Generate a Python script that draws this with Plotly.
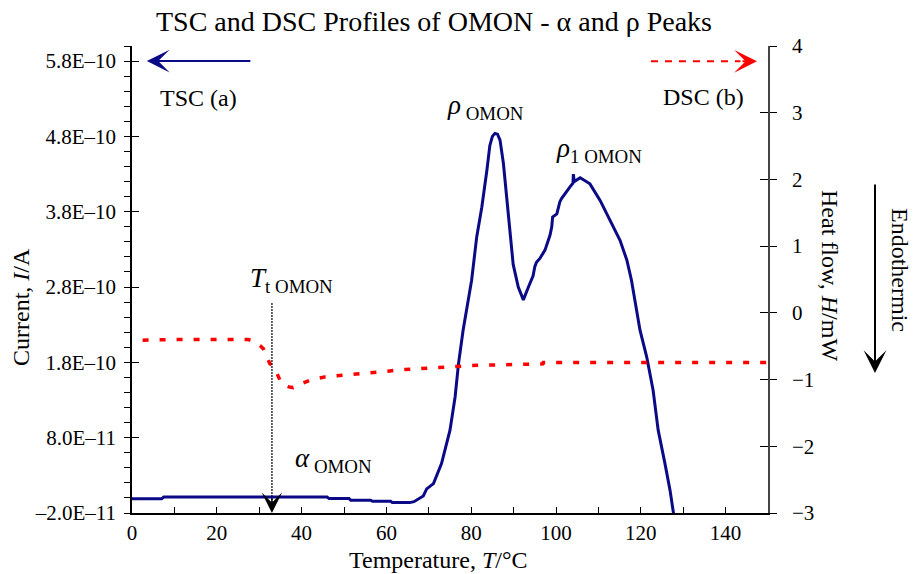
import plotly.graph_objects as go

# ---------------- data ----------------
tsc_temp = [0, 7.0, 7.5, 46.0, 46.5, 51.2, 51.6, 56.3, 56.7, 61.0, 61.4, 65.5, 66.5, 67.5,
            68.7, 69.5, 71.1, 73.0, 75.0, 76.2, 77.0, 78.1, 80.1, 81.3, 82.5, 83.7, 84.4,
            85.0, 85.6, 86.2, 86.8, 87.6, 88.4, 89.2, 89.9, 91.1, 92.3, 93.5, 94.6, 95.0,
            95.4, 96.2, 97.4, 98.6, 99.0, 99.2, 100.2, 100.9, 101.3, 103.3, 104.0, 104.1,
            104.3, 105.7, 108.0, 110.4, 112.7, 115.1, 116.7, 117.8, 119.8, 121.4, 122.9,
            124.1, 125.7, 126.9, 127.7, 128.2]
tsc_current_e10 = [-0.01, -0.01, 0.012, 0.012, -0.009, -0.009, -0.031, -0.031, -0.044, -0.044,
                   -0.062, -0.062, -0.05, -0.01, 0.026, 0.12, 0.19, 0.456, 0.90, 1.34, 1.78,
                   2.23, 2.89, 3.465, 3.86, 4.35, 4.68, 4.80, 4.84, 4.83, 4.75, 4.44, 4.0,
                   3.53, 3.1, 2.80, 2.63, 2.80, 2.95, 3.07, 3.13, 3.18, 3.29, 3.49, 3.60, 3.73,
                   3.77, 3.93, 3.975, 4.13, 4.18, 4.30, 4.20, 4.25, 4.17, 3.95, 3.69, 3.42,
                   3.16, 2.89, 2.23, 1.87, 1.43, 0.90, 0.456, 0.10, -0.2, -0.45]
tsc_current = [v * 1e-10 for v in tsc_current_e10]

dsc_temp = [2.5, 10, 20, 27.4, 28.5, 30.2, 31.0, 32.5, 33.3, 34.0, 34.9, 35.5, 37.0, 38.0,
            40.0, 42.0, 45.5, 49.1, 53.4, 56.9, 60.8, 64.0, 68.7, 72.6, 81.3, 93.1, 96.9,
            97.0, 150]
dsc_heat = [-0.41, -0.40, -0.40, -0.40, -0.42, -0.49, -0.54, -0.76, -0.80, -0.88, -1.01,
            -1.07, -1.11, -1.12, -1.06, -1.01, -0.96, -0.936, -0.91, -0.886, -0.871, -0.85,
            -0.835, -0.82, -0.786, -0.77, -0.765, -0.745, -0.745]

x_tickvals = [0, 20, 40, 60, 80, 100, 120, 140]
left_tickvals = [-2e-11, 8e-11, 1.8e-10, 2.8e-10, 3.8e-10, 4.8e-10, 5.8e-10]
left_ticktext = ["\u20132.0E\u201311", "8.0E\u201311", "1.8E\u201310", "2.8E\u201310",
                 "3.8E\u201310", "4.8E\u201310", "5.8E\u201310"]
right_tickvals = [-3, -2, -1, 0, 1, 2, 3, 4]

FONT = "Liberation Serif, Times New Roman, serif"
NAVY = "#0a0a86"
RED = "#ff0000"

L, R, T, B = 132, 146, 46, 61
W, H = 914, 574
PW, PH = W - L - R, H - T - B


def pxx(p):
    return (p - L) / PW


def pxy(p):
    return (H - B - p) / PH


fig = go.Figure()
fig.add_trace(go.Scatter(x=tsc_temp, y=tsc_current, mode="lines",
                         line=dict(color=NAVY, width=3), yaxis="y", showlegend=False,
                         hoverinfo="skip"))
fig.add_trace(go.Scatter(x=dsc_temp, y=dsc_heat, mode="lines",
                         line=dict(color=RED, width=3.5, dash="6px,11px"), yaxis="y2",
                         showlegend=False, hoverinfo="skip"))
# helper traces for crossing ticks
fig.add_trace(go.Scatter(x=[None], y=[None], yaxis="y3", showlegend=False, hoverinfo="skip"))
fig.add_trace(go.Scatter(x=[None], y=[None], yaxis="y4", showlegend=False, hoverinfo="skip"))

tickfont = dict(family=FONT, size=21, color="black")

fig.update_layout(
    width=W, height=H,
    margin=dict(l=L, r=R, t=T, b=B),
    paper_bgcolor="white", plot_bgcolor="white",
    font=dict(family=FONT, color="black"),
    title=dict(text="TSC and DSC Profiles of OMON - \u03b1 and \u03c1 Peaks",
               font=dict(family=FONT, size=28, color="black"),
               xref="container", yref="container", x=434 / W, xanchor="center",
               y=1 - 21 / H, yanchor="middle"),
    xaxis=dict(range=[0, 150], tickvals=x_tickvals, ticks="inside", ticklen=6,
               tickwidth=1.3, tickcolor="black", showline=True, linecolor="black",
               linewidth=1.5, showgrid=False, zeroline=False, tickfont=tickfont,
               ticklabelstandoff=0,
               minor=dict(tickmode="linear", tick0=0, dtick=10, ticks="inside", ticklen=6,
                          tickwidth=1.3, tickcolor="black")),
    yaxis=dict(range=[-2e-11, 6e-10], tickmode="array", tickvals=left_tickvals,
               ticktext=left_ticktext, ticks="outside", ticklen=6, tickwidth=1.3,
               tickcolor="black", showline=True, linecolor="black", linewidth=1.5,
               showgrid=False, zeroline=False, tickfont=tickfont, ticklabelstandoff=4,
               minor=dict(tickmode="linear", tick0=-2e-11, dtick=2e-11, ticks="outside",
                          ticklen=6, tickwidth=1.2, tickcolor="black")),
    yaxis3=dict(range=[-2e-11, 6e-10], overlaying="y", side="left", anchor="x",
                tickmode="array", tickvals=left_tickvals, ticks="inside", ticklen=7,
                tickwidth=1.3, tickcolor="black", showticklabels=False, showline=False,
                showgrid=False, zeroline=False),
    yaxis2=dict(range=[-3, 4], overlaying="y", side="right", anchor="x",
                tickmode="array", tickvals=right_tickvals, ticks="outside", ticklen=7,
                tickwidth=1.3, tickcolor="black", showline=True, linecolor="#444444",
                linewidth=1.5, showgrid=False, zeroline=False, tickfont=tickfont,
                ticklabelstandoff=11),
    yaxis4=dict(range=[-3, 4], overlaying="y", side="right", anchor="x",
                tickmode="array", tickvals=right_tickvals, ticks="inside", ticklen=8,
                tickwidth=1.3, tickcolor="black", showticklabels=False, showline=False,
                showgrid=False, zeroline=False),
)


def txt(text, x, y, size=24, angle=0):
    return dict(text=text, xref="paper", yref="paper", x=pxx(x), y=pxy(y),
                xanchor="center", yanchor="middle", textangle=angle, showarrow=False,
                font=dict(family=FONT, size=size, color="black"))


ann = []
# axis titles
ann.append(txt("Temperature, <i>T</i>/\u00b0C", 438, 560))
ann.append(txt("Current, <i>I</i>/A", 21, 307, angle=-90))
ann.append(txt("Heat flow, <i>H</i>/mW", 830, 275, angle=90))
ann.append(txt("Endothermic", 900, 270, angle=90))
# endothermic arrow
ann.append(dict(text="", xref="paper", yref="paper", x=pxx(875), y=pxy(373),
                ax=0, ay=-190, showarrow=True, arrowhead=3, arrowwidth=2,
                arrowsize=1.9, arrowcolor="black"))
# legend texts
ann.append(txt("TSC (a)", 198.5, 98))
ann.append(txt("DSC (b)", 703, 97))
# TSC arrow (pointing left)
ann.append(dict(text="", xref="x", yref="y", x=3.5, y=5.8e-10, ax=105, ay=0,
                showarrow=True, arrowhead=3, arrowwidth=2, arrowsize=1.9,
                arrowcolor=NAVY))
# DSC arrow head (pointing right)
ann.append(dict(text="", xref="x", yref="y2", x=147.4, y=3.77, ax=-16, ay=0,
                showarrow=True, arrowhead=3, arrowwidth=2, arrowsize=1.9,
                arrowcolor=RED))
# peak labels
ann.append(txt("<i>\u03c1</i><sub> OMON</sub>", 485, 107, size=27))
ann.append(txt("<i>\u03c1</i><sub>1 OMON</sub>", 599, 150, size=27))
ann.append(txt("<i>T</i><sub>t OMON</sub>", 291.5, 280, size=27))
ann.append(txt("<i>\u03b1</i><sub> OMON</sub>", 333, 460, size=27))
# transition arrow head
ann.append(dict(text="", xref="x", yref="y", x=33.0, y=-2e-11, ax=0, ay=-16,
                showarrow=True, arrowhead=3, arrowwidth=1.5, arrowsize=2.3,
                arrowcolor="black"))
fig.update_layout(annotations=ann)

fig.add_shape(type="line", xref="x", yref="y", x0=33.0, x1=33.0, y0=2.585e-10, y1=-1.0e-11,
              line=dict(color="black", width=1.6, dash="1.5px,1.5px"))
fig.add_shape(type="line", xref="x", yref="y2", x0=122.4, x1=143.5, y0=3.77, y1=3.77,
              line=dict(color=RED, width=2, dash="7px,7px"))

fig.write_html("out.html")
